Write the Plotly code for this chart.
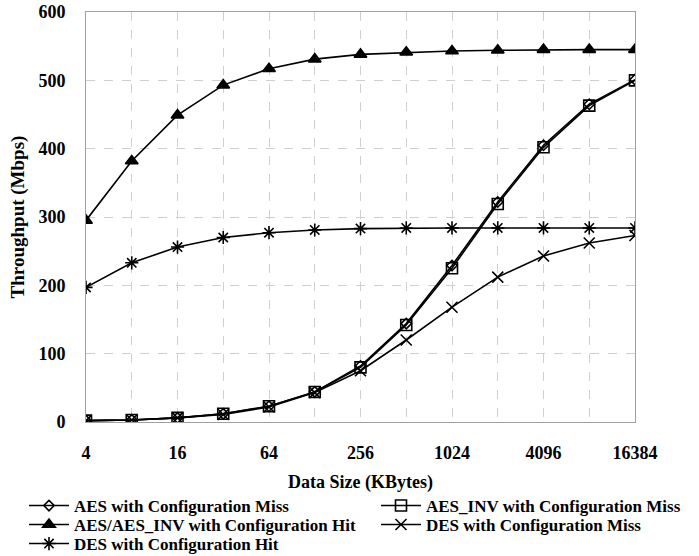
import math
import plotly.graph_objects as go

sizes = [4, 8, 16, 32, 64, 128, 256, 512, 1024, 2048, 4096, 8192, 16384]
aes_miss = [2, 3, 6, 12, 23, 44, 82, 144, 229, 322, 405, 465, 501]
aes_inv_miss = [2, 3, 6, 12, 23, 44, 80, 142, 225, 319, 402, 463, 500]
aes_hit = [295, 382, 449, 493, 517, 531, 538, 541, 543, 544, 545, 545, 545]
des_miss = [2, 3, 6, 11, 22, 43, 75, 120, 168, 212, 243, 262, 273]
des_hit = [197, 233, 256, 270, 277, 281, 283, 284, 284, 284, 284, 284, 284]
tick_labels = ["4", "", "16", "", "64", "", "256", "", "1024", "", "4096", "", "16384"]

FONT = "Liberation Serif"
W, H = 699, 556
ML, MR, MT, MB = 86, 64, 12, 134
PW, PH = W - ML - MR, H - MT - MB

# name, values, symbol, size, legend id, legend column px, legend row center px
series = [
    ("AES with Configuration Miss", aes_miss, "diamond-open", 8, "legend", 24, 506),
    ("AES_INV with Configuration Miss", aes_inv_miss, "square-open", 11, "legend2", 376, 506),
    ("AES/AES_INV with Configuration Hit", aes_hit, "triangle-up", 11, "legend3", 24, 525),
    ("DES with Configuration Miss", des_miss, "x-thin-open", 11, "legend4", 376, 525),
    ("DES with Configuration Hit", des_hit, "asterisk-open", 11, "legend5", 24, 544),
]

fig = go.Figure()
legends = {}
for name, vals, sym, sz, lg, lx, ly in series:
    fig.add_trace(go.Scatter(
        x=sizes, y=vals, name=name, mode="lines+markers", legend=lg,
        line=dict(color="black", width=1.6),
        marker=dict(symbol=sym, size=sz, color="black",
                    line=dict(color="black", width=1.6)),
    ))
    legends[lg] = dict(
        x=(lx - ML) / PW, xanchor="left",
        y=(H - MB - ly) / PH, yanchor="middle",
        orientation="v",
        font=dict(size=17, family=FONT, weight="bold", color="black"),
        itemwidth=40, bgcolor="rgba(0,0,0,0)", borderwidth=0,
    )

fig.update_layout(
    width=W, height=H,
    margin=dict(l=ML, r=MR, t=MT, b=MB, autoexpand=False),
    paper_bgcolor="white", plot_bgcolor="white",
    font=dict(family=FONT, color="black"),
    xaxis=dict(
        type="log", range=[math.log10(4), math.log10(16384)],
        tickvals=sizes, ticktext=tick_labels,
        tickfont=dict(size=18, family=FONT, weight="bold"),
        ticks="", ticklabelstandoff=14, automargin=False,
        showgrid=True, gridcolor="#cfcfcf", griddash="dash", gridwidth=1,
        showline=True, linecolor="#a0a0a0", linewidth=1, mirror=True,
        title=dict(text="<b>Data Size (KBytes)</b>", font=dict(size=18, family=FONT), standoff=13),
        zeroline=False,
    ),
    yaxis=dict(
        range=[0, 600], tickvals=[0, 100, 200, 300, 400, 500, 600],
        tickfont=dict(size=18, family=FONT, weight="bold"),
        ticks="", ticklabelstandoff=16, automargin=False,
        showgrid=True, gridcolor="#cfcfcf", griddash="dash", gridwidth=1,
        showline=True, linecolor="#a0a0a0", linewidth=1, mirror=True,
        title=dict(text="<b>Throughput (Mbps)</b>", font=dict(size=19, family=FONT), standoff=8),
        zeroline=False,
    ),
    showlegend=True,
    **legends,
)
fig.write_html(
    "out.html",
    config={"displayModeBar": False},
    post_script="document.body.style.margin='0';document.body.style.overflow='hidden';",
)
